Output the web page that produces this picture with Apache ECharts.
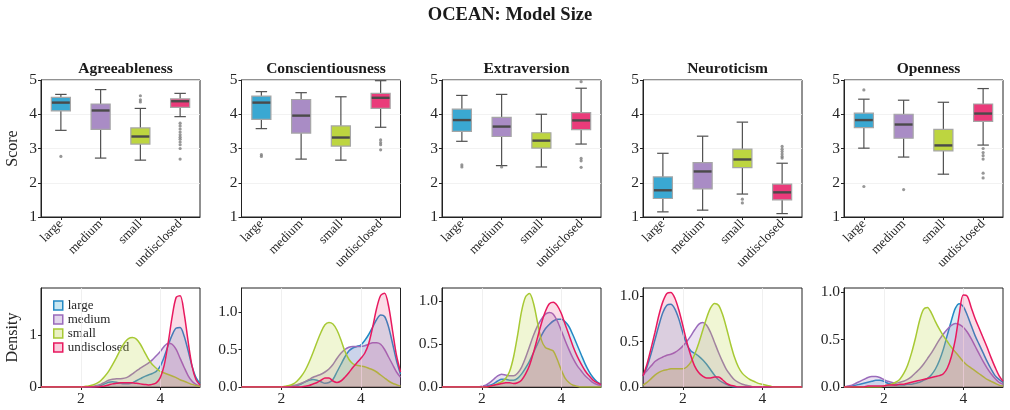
<!DOCTYPE html>
<html><head><meta charset="utf-8">
<script src="https://cdn.jsdelivr.net/npm/echarts@6/dist/echarts.min.js"></script>
<style>html,body{margin:0;padding:0;background:#fff}#c{width:1010px;height:410px}</style>
</head><body><div id="c"></div>
<script>
const MAIN_TITLE = 'OCEAN: Model Size';
const TRAITS = ['Agreeableness','Conscientiousness','Extraversion','Neuroticism','Openness'];
const GROUPS = ['large','medium','small','undisclosed'];
const SCORE_TICKS = [1,2,3,4,5];
const DENS_X_TICKS = [2,4];
const DENS_Y_TICKS = [[0,1],[0,0.5,1],[0,0.5,1],[0,0.5,1],[0,0.5,1]];
const DENS_Y_MAX = [1.9,1.32,1.155,1.09,1.045];

// box stats per group: [lower whisker, Q1, median, Q3, upper whisker]
const BOX_AGREEABLENESS = [[3.53,4.10,4.34,4.49,4.58],[2.72,3.56,4.11,4.30,4.72],[2.66,3.13,3.35,3.60,4.17],[3.93,4.20,4.38,4.45,4.61]];
const BOX_CONSCIENTIOUSNESS = [[3.58,3.85,4.34,4.53,4.66],[2.69,3.45,3.96,4.43,4.63],[2.66,3.07,3.32,3.66,4.51],[3.62,4.17,4.48,4.61,4.98]];
const BOX_EXTRAVERSION = [[3.21,3.50,3.83,4.15,4.55],[2.50,3.35,3.64,3.91,4.58],[2.46,3.01,3.23,3.46,4.00],[3.13,3.55,3.82,4.05,4.76]];
const BOX_NEUROTICISM = [[1.15,1.54,1.78,2.17,2.86],[1.20,1.82,2.33,2.59,3.36],[1.67,2.44,2.68,2.98,3.77],[1.10,1.50,1.72,1.96,2.57]];
const BOX_OPENNESS = [[3.01,3.61,3.83,4.03,4.44],[2.75,3.30,3.70,4.00,4.41],[2.25,2.93,3.09,3.56,4.35],[3.10,3.79,4.02,4.30,4.75]];

// outliers per group
const OUT_AGREEABLENESS = [[2.77],[],[4.54,4.42,4.36],[3.74,3.66,3.57,3.48,3.40,3.33,3.27,3.19,3.11,3.00,2.69]];
const OUT_CONSCIENTIOUSNESS = [[2.82,2.77],[],[],[3.25,3.17,3.11,2.96]];
const OUT_EXTRAVERSION = [[2.52,2.46],[2.46],[],[4.95,2.71,2.64,2.45]];
const OUT_NEUROTICISM = [[],[],[1.52,1.41],[3.06,2.98,2.91,2.84,2.77,2.72]];
const OUT_OPENNESS = [[4.71,1.89],[1.80],[],[3.00,2.88,2.79,2.69,2.28,2.14]];

// density x grid
const DENSITY_X = [1.0,1.1,1.2,1.3,1.4,1.5,1.6,1.7,1.8,1.9,2.0,2.1,2.2,2.3,2.4,2.5,2.6,2.7,2.8,2.9,3.0,3.1,3.2,3.3,3.4,3.5,3.6,3.7,3.8,3.9,4.0,4.1,4.2,4.3,4.4,4.5,4.6,4.7,4.8,4.9,5.0];

// densities [large, medium, small, undisclosed], values at DENSITY_X
const DENS_AGREEABLENESS = [
 [0,0,0,0,0,0,0,0,0,0, 0,0,0,0,0.01,0.03,0.06,0.09,0.10,0.09, 0.07,0.06,0.06,0.08,0.12,0.16,0.20,0.23,0.26,0.30, 0.40,0.58,0.80,1.00,1.13,1.14,0.98,0.70,0.40,0.18, 0.07],
 [0,0,0,0,0,0,0,0,0,0, 0,0,0,0.01,0.03,0.05,0.09,0.13,0.15,0.16, 0.16,0.17,0.20,0.25,0.31,0.36,0.41,0.46,0.52,0.60, 0.68,0.78,0.84,0.82,0.72,0.55,0.38,0.22,0.11,0.05, 0.02],
 [0,0,0,0,0,0,0,0,0,0, 0,0.01,0.02,0.04,0.07,0.12,0.20,0.30,0.43,0.57, 0.72,0.85,0.93,0.95,0.92,0.82,0.68,0.54,0.43,0.36, 0.30,0.27,0.24,0.21,0.18,0.14,0.11,0.08,0.05,0.03, 0.01],
 [0,0,0,0,0,0,0,0,0,0, 0,0,0,0,0,0.01,0.02,0.04,0.06,0.07, 0.08,0.08,0.08,0.08,0.07,0.06,0.05,0.04,0.05,0.08, 0.18,0.42,0.85,1.35,1.72,1.75,1.42,0.88,0.40,0.14, 0.04]
];
const DENS_CONSCIENTIOUSNESS = [
 [0,0,0,0,0,0,0,0,0,0, 0,0,0,0.01,0.02,0.04,0.07,0.09,0.10,0.09, 0.07,0.05,0.06,0.10,0.20,0.30,0.40,0.48,0.52,0.54, 0.56,0.62,0.70,0.80,0.90,0.96,0.94,0.80,0.58,0.35, 0.17],
 [0,0,0,0,0,0,0,0,0,0, 0,0,0.01,0.02,0.03,0.05,0.07,0.10,0.13,0.15, 0.17,0.20,0.24,0.30,0.38,0.45,0.50,0.53,0.54,0.54, 0.54,0.55,0.57,0.59,0.59,0.57,0.50,0.40,0.30,0.20, 0.13],
 [0,0,0,0,0,0,0,0,0,0, 0,0.01,0.02,0.04,0.08,0.14,0.22,0.33,0.46,0.60, 0.73,0.83,0.86,0.84,0.76,0.63,0.48,0.37,0.31,0.29, 0.28,0.27,0.25,0.23,0.20,0.16,0.12,0.08,0.05,0.03, 0.01],
 [0,0,0,0,0,0,0,0,0,0, 0,0,0,0,0,0,0.01,0.02,0.04,0.06, 0.09,0.12,0.12,0.08,0.06,0.08,0.13,0.19,0.26,0.32, 0.38,0.45,0.58,0.80,1.05,1.22,1.25,1.08,0.75,0.42, 0.20]
];
const DENS_EXTRAVERSION = [
 [0,0,0,0,0,0,0,0,0,0, 0,0.01,0.02,0.04,0.07,0.09,0.09,0.08,0.08,0.10, 0.15,0.22,0.30,0.40,0.50,0.60,0.68,0.73,0.77,0.79, 0.79,0.76,0.70,0.60,0.49,0.38,0.27,0.18,0.11,0.06, 0.03],
 [0,0,0,0,0,0,0,0,0,0, 0.01,0.02,0.05,0.09,0.13,0.15,0.14,0.13,0.13,0.16, 0.23,0.34,0.47,0.60,0.71,0.79,0.85,0.87,0.85,0.77, 0.66,0.54,0.43,0.33,0.25,0.19,0.13,0.09,0.05,0.03, 0.02],
 [0,0,0,0,0,0,0,0,0,0, 0,0,0.01,0.02,0.04,0.06,0.10,0.18,0.35,0.60, 0.88,1.05,1.09,0.98,0.76,0.55,0.46,0.44,0.42,0.32, 0.20,0.10,0.05,0.02,0.01,0,0,0,0,0, 0],
 [0,0,0,0,0,0,0,0,0,0, 0,0,0.01,0.02,0.03,0.04,0.05,0.05,0.04,0.05, 0.08,0.15,0.25,0.40,0.57,0.74,0.88,0.97,0.99,0.95, 0.86,0.73,0.60,0.47,0.36,0.27,0.19,0.13,0.08,0.05, 0.03]
];
const DENS_NEUROTICISM = [
 [0.12,0.22,0.36,0.52,0.68,0.82,0.90,0.91,0.86,0.75, 0.60,0.47,0.40,0.37,0.34,0.30,0.25,0.19,0.13,0.08, 0.05,0.03,0.01,0,0,0,0,0,0,0, 0,0,0,0,0,0,0,0,0,0, 0],
 [0.13,0.18,0.23,0.28,0.31,0.33,0.35,0.36,0.38,0.41, 0.45,0.50,0.56,0.63,0.69,0.71,0.68,0.60,0.49,0.38, 0.28,0.19,0.13,0.08,0.05,0.03,0.02,0.01,0,0, 0,0,0,0,0,0,0,0,0,0, 0],
 [0.02,0.05,0.09,0.13,0.16,0.18,0.19,0.20,0.20,0.20, 0.20,0.22,0.27,0.36,0.48,0.62,0.76,0.87,0.92,0.90, 0.80,0.65,0.48,0.33,0.22,0.15,0.11,0.08,0.06,0.04, 0.03,0.02,0.01,0,0,0,0,0,0,0, 0],
 [0.12,0.25,0.42,0.60,0.79,0.94,1.03,1.04,0.98,0.85, 0.68,0.50,0.35,0.23,0.16,0.12,0.10,0.10,0.11,0.11, 0.08,0.04,0.02,0.01,0,0,0,0,0,0, 0,0,0,0,0,0,0,0,0,0, 0]
];
const DENS_OPENNESS = [
 [0,0,0.01,0.02,0.03,0.04,0.05,0.06,0.07,0.07, 0.06,0.04,0.03,0.02,0.02,0.02,0.03,0.03,0.04,0.05, 0.07,0.09,0.13,0.19,0.28,0.40,0.55,0.70,0.83,0.88, 0.85,0.76,0.65,0.54,0.45,0.36,0.27,0.19,0.12,0.08, 0.05],
 [0,0.01,0.02,0.04,0.06,0.08,0.10,0.11,0.11,0.10, 0.08,0.06,0.05,0.04,0.05,0.06,0.08,0.11,0.15,0.19, 0.24,0.30,0.36,0.43,0.50,0.56,0.61,0.65,0.67,0.66, 0.63,0.58,0.51,0.43,0.35,0.27,0.20,0.14,0.09,0.05, 0.03],
 [0,0,0,0,0,0,0,0,0,0, 0.01,0.02,0.03,0.05,0.08,0.14,0.23,0.36,0.52,0.70, 0.82,0.84,0.78,0.69,0.61,0.54,0.48,0.42,0.37,0.32, 0.27,0.23,0.20,0.17,0.14,0.11,0.08,0.06,0.04,0.02, 0.01],
 [0,0,0,0,0,0,0.01,0.01,0.01,0.01, 0.01,0.02,0.02,0.02,0.03,0.03,0.04,0.05,0.06,0.07, 0.08,0.09,0.10,0.11,0.12,0.14,0.20,0.32,0.50,0.77, 0.97,0.96,0.84,0.72,0.62,0.52,0.42,0.31,0.21,0.12, 0.06]
];

const BOXES = [BOX_AGREEABLENESS,BOX_CONSCIENTIOUSNESS,BOX_EXTRAVERSION,BOX_NEUROTICISM,BOX_OPENNESS];
const OUTLIERS = [OUT_AGREEABLENESS,OUT_CONSCIENTIOUSNESS,OUT_EXTRAVERSION,OUT_NEUROTICISM,OUT_OPENNESS];
const DENSITIES = [DENS_AGREEABLENESS,DENS_CONSCIENTIOUSNESS,DENS_EXTRAVERSION,DENS_NEUROTICISM,DENS_OPENNESS];

const FONT = '"Liberation Serif","Times New Roman",serif';
const TXT = '#262626';
const BOX_FILL = ['#3aa8d2','#a98cc5','#bdd540','#ea3b7a'];
const LINE_COL = ['#2389c4','#9a6bbb','#a7c934','#e8195f'];
const AREA_COL = ['rgba(58,168,210,0.28)','rgba(154,107,187,0.28)','rgba(189,213,64,0.32)','rgba(234,59,122,0.26)'];
const LEFTS = [41, 241.5, 442, 643, 844];
const PW = 159;

function renderBox(params, api) {
  const x = api.value(0);
  const lo = api.coord([x, api.value(1)]);
  const q1 = api.coord([x, api.value(2)]);
  const md = api.coord([x, api.value(3)]);
  const q3 = api.coord([x, api.value(4)]);
  const hi = api.coord([x, api.value(5)]);
  const bw = api.size([1, 0])[0] * 0.48;
  const cap = bw * 0.6;
  const cx = lo[0];
  const wStyle = {stroke: '#505050', lineWidth: 1.2};
  return {type: 'group', children: [
    {type: 'line', shape: {x1: cx, y1: hi[1], x2: cx, y2: q3[1]}, style: wStyle},
    {type: 'line', shape: {x1: cx, y1: q1[1], x2: cx, y2: lo[1]}, style: wStyle},
    {type: 'line', shape: {x1: cx - cap/2, y1: hi[1], x2: cx + cap/2, y2: hi[1]}, style: wStyle},
    {type: 'line', shape: {x1: cx - cap/2, y1: lo[1], x2: cx + cap/2, y2: lo[1]}, style: wStyle},
    {type: 'rect', shape: {x: cx - bw/2, y: q3[1], width: bw, height: q1[1] - q3[1]},
      style: {fill: api.visual('color'), stroke: '#a6a6a6', lineWidth: 1.2}},
    {type: 'line', shape: {x1: cx - bw/2 + 0.6, y1: md[1], x2: cx + bw/2 - 0.6, y2: md[1]}, style: {stroke: '#4a4a4a', lineWidth: 2.4}}
  ]};
}

const grid = [], xAxis = [], yAxis = [], series = [], title = [];
title.push({text: MAIN_TITLE, left: 505, top: 1, textAlign: 'center',
  textStyle: {fontFamily: FONT, fontSize: 18.5, fontWeight: 'bold', color: '#1a1a1a'}});

TRAITS.forEach((t, i) => {
  title.push({text: t, left: LEFTS[i] + PW/2, top: 56, textAlign: 'center',
    textStyle: {fontFamily: FONT, fontSize: 15.5, fontWeight: 'bold', color: '#1a1a1a'}});
  grid.push({left: LEFTS[i], top: 80, width: PW, height: 137, show: true, borderColor: '#222', borderWidth: 1, backgroundColor: 'transparent'});
});
TRAITS.forEach((t, i) => {
  grid.push({left: LEFTS[i], top: 288, width: PW, height: 99, show: true, borderColor: '#222', borderWidth: 1, backgroundColor: 'transparent'});
});

TRAITS.forEach((t, i) => {
  xAxis.push({type: 'category', gridIndex: i, data: GROUPS, boundaryGap: true,
    axisLine: {show: true, lineStyle: {color: '#222'}},
    axisTick: {show: true, alignWithLabel: true, length: 3, lineStyle: {color: '#222'}},
    axisLabel: {rotate: 45, fontFamily: FONT, fontSize: 13, color: TXT, margin: 5, interval: 0},
    splitLine: {show: false}});
  yAxis.push({type: 'value', gridIndex: i, min: SCORE_TICKS[0], max: SCORE_TICKS[SCORE_TICKS.length-1], interval: 1,
    axisLine: {show: true, lineStyle: {color: '#222'}},
    axisTick: {show: true, length: 3, lineStyle: {color: '#222'}},
    axisLabel: {fontFamily: FONT, fontSize: 15.5, color: TXT, margin: 4},
    splitLine: {show: true, lineStyle: {color: '#efefef', width: 0.8}},
    name: i === 0 ? 'Score' : '', nameLocation: 'middle', nameGap: 20, nameRotate: 90,
    nameTextStyle: {fontFamily: FONT, fontSize: 16, color: TXT}});
});
TRAITS.forEach((t, i) => {
  xAxis.push({type: 'value', gridIndex: 5 + i, min: 1, max: 5, interval: 1,
    axisLine: {show: true, lineStyle: {color: '#222'}},
    axisTick: {show: true, length: 3, customValues: DENS_X_TICKS, lineStyle: {color: '#222'}},
    axisLabel: {fontFamily: FONT, fontSize: 15.5, color: TXT, margin: 4, customValues: DENS_X_TICKS},
    splitLine: {show: false}});
  yAxis.push({type: 'value', gridIndex: 5 + i, min: 0, max: DENS_Y_MAX[i], interval: i === 0 ? 1 : 0.5,
    axisLine: {show: true, lineStyle: {color: '#222'}},
    axisTick: {show: true, length: 3, customValues: DENS_Y_TICKS[i], lineStyle: {color: '#222'}},
    axisLabel: {fontFamily: FONT, fontSize: 15.5, color: TXT, margin: 4, customValues: DENS_Y_TICKS[i],
      formatter: v => i === 0 ? String(Math.round(v)) : v.toFixed(1)},
    splitLine: {show: false},
    name: i === 0 ? 'Density' : '', nameLocation: 'middle', nameGap: 20, nameRotate: 90,
    nameTextStyle: {fontFamily: FONT, fontSize: 16, color: TXT}});
});

TRAITS.forEach((t, i) => {
  // faint vertical grid lines at density x ticks
  series.push({type: 'line', name: 'grid', xAxisIndex: 5 + i, yAxisIndex: 5 + i, data: [], silent: true,
    markLine: {silent: true, symbol: 'none', label: {show: false},
      lineStyle: {color: '#ececec', width: 0.8, type: 'solid'},
      data: DENS_X_TICKS.map(v => ({xAxis: v}))}});
  series.push({type: 'custom', name: 'box', xAxisIndex: i, yAxisIndex: i, renderItem: renderBox,
    encode: {x: 0, y: [1, 2, 3, 4, 5]},
    data: BOXES[i].map((b, j) => ({value: [j].concat(b), itemStyle: {color: BOX_FILL[j]}})), z: 3});
  const pts = [];
  OUTLIERS[i].forEach((arr, j) => arr.forEach(v => pts.push([j, v])));
  series.push({type: 'scatter', name: 'outlier', xAxisIndex: i, yAxisIndex: i, data: pts,
    symbolSize: 3.2, itemStyle: {color: '#7d7d7d'}, z: 4});
  GROUPS.forEach((g, j) => {
    series.push({type: 'line', name: g, xAxisIndex: 5 + i, yAxisIndex: 5 + i,
      data: DENSITY_X.map((x, k) => [x, DENSITIES[i][j][k]]),
      smooth: 0.3, showSymbol: false, symbol: 'none',
      lineStyle: {color: LINE_COL[j], width: 1.5}, itemStyle: {color: LINE_COL[j]},
      areaStyle: {color: AREA_COL[j]}, z: 2 + j});
  });
});

const option = {
  animation: false,
  backgroundColor: '#ffffff',
  textStyle: {fontFamily: FONT},
  title: title,
  grid: grid, xAxis: xAxis, yAxis: yAxis, series: series,
  legend: {show: true, orient: 'vertical', left: 48, top: 294, itemWidth: 9, itemHeight: 9, itemGap: 1,
    selectedMode: false,
    textStyle: {fontFamily: FONT, fontSize: 13, color: TXT, lineHeight: 13},
    data: GROUPS.map((g, j) => ({name: g, icon: 'rect',
      itemStyle: {color: AREA_COL[j], borderColor: LINE_COL[j], borderWidth: 1.5}}))}
};
const chart = echarts.init(document.getElementById('c'));
chart.setOption(option);
</script>
</body></html>
